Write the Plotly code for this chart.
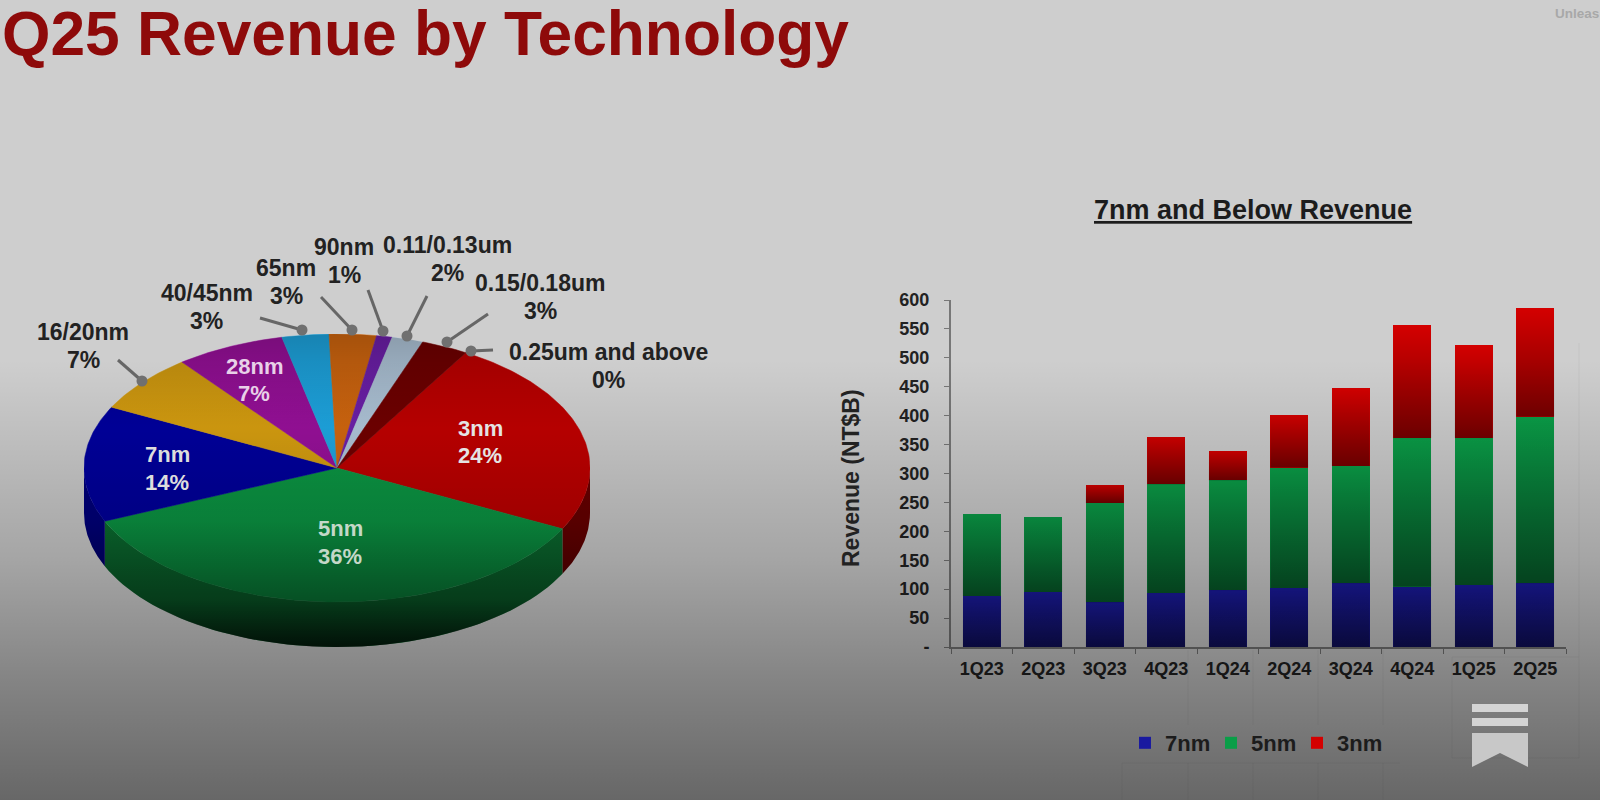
import base64

import numpy as np
import plotly.graph_objects as go

# =====================================================
# DATA
# =====================================================

pie_labels = ["3nm", "5nm", "7nm", "16/20nm", "28nm", "40/45nm", "65nm", "90nm",
              "0.11/0.13um", "0.15/0.18um", "0.25um and above"]
pie_shares = [24, 36, 14, 7, 7, 3, 3, 1, 2, 3, 0]
pie_colors = ["#c20000", "#0b9a45", "#0000a0", "#d9a010", "#9a109c", "#1ea8e4",
              "#d4680f", "#6f20ad", "#b2c8dc", "#720000", "#555555"]
wall_colors = ["#6a0000", "#0b7232", "#00007e", "#8a660a", "#5f0a60", "#146c92",
               "#884209", "#46156e", "#71808e", "#490000", "#333333"]

quarters = ["1Q23", "2Q23", "3Q23", "4Q23", "1Q24", "2Q24", "3Q24", "4Q24", "1Q25", "2Q25"]
rev_7nm = [88, 95, 77, 93, 98, 102, 110, 104, 107, 110]
rev_5nm = [142, 130, 172, 188, 190, 208, 203, 257, 254, 288]
rev_3nm = [0, 0, 31, 82, 51, 92, 134, 195, 162, 188]

y_ticks = [0, 50, 100, 150, 200, 250, 300, 350, 400, 450, 500, 550, 600]
y_tick_text = ["-", "50", "100", "150", "200", "250", "300", "350", "400", "450", "500", "550", "600"]

W = 1600
H = 800
FONT = "Liberation Sans"


def px(x):
    return x / W


def py(y):
    return 1 - y / H


def svg_uri(svg):
    return "data:image/svg+xml;base64," + base64.b64encode(svg.encode()).decode()


def fade_uri(stops):
    rows = "".join(f'<stop offset="{o}" stop-color="#000" stop-opacity="{a}"/>' for o, a in stops)
    return svg_uri(
        '<svg xmlns="http://www.w3.org/2000/svg" width="10" height="100" viewBox="0 0 10 100" '
        'preserveAspectRatio="none"><defs><linearGradient id="g" x1="0" y1="0" x2="0" y2="1">'
        f'{rows}</linearGradient></defs><rect width="10" height="100" fill="url(#g)"/></svg>'
    )


fig = go.Figure()

# =====================================================
# PIE (tilted, drawn on its own unit axes)
# =====================================================

DEPTH = 0.336
START = 8.5

edges = START + np.concatenate([[0], np.cumsum(pie_shares)])
angles = np.radians(edges * 3.6)

# front wall first
for i, label in enumerate(pie_labels):
    a0 = max(angles[i], np.pi / 2)
    a1 = min(angles[i + 1], 3 * np.pi / 2)
    if a1 <= a0:
        continue
    t = np.linspace(a0, a1, 60)
    wall_x = np.concatenate([np.sin(t), np.sin(t[::-1])])
    wall_y = np.concatenate([np.cos(t), np.cos(t[::-1]) - DEPTH])
    fig.add_trace(go.Scatter(x=wall_x, y=wall_y, xaxis="x2", yaxis="y2", mode="lines", fill="toself",
                             fillcolor=wall_colors[i], line=dict(width=0, color=wall_colors[i]),
                             showlegend=False, hoverinfo="skip"))

for i, label in enumerate(pie_labels):
    if pie_shares[i] == 0:
        continue
    t = np.linspace(angles[i], angles[i + 1], max(3, pie_shares[i] * 4))
    fig.add_trace(go.Scatter(x=np.concatenate([[0], np.sin(t), [0]]),
                             y=np.concatenate([[0], np.cos(t), [0]]),
                             xaxis="x2", yaxis="y2", mode="lines", fill="toself",
                             fillcolor=pie_colors[i], line=dict(width=0.5, color=pie_colors[i]),
                             name=label, showlegend=False, hoverinfo="name"))

# =====================================================
# STACKED BARS
# =====================================================

bar_series = [("7nm", rev_7nm, "#1a1aa0"), ("5nm", rev_5nm, "#0a9e48"), ("3nm", rev_3nm, "#d40000")]

for name, values, color in bar_series:
    fig.add_trace(go.Bar(x=quarters, y=values, name=name, marker=dict(color=color, line=dict(width=0))))

# =====================================================
# IMAGES: SHADING OVER THE MARKS
# =====================================================

images = []

bar_fade = fade_uri([(0, 0), (1, 0.45)])
bottoms = np.zeros(len(quarters))
for name, values, color in bar_series:
    for i, v in enumerate(values):
        if v == 0:
            continue
        images.append(dict(source=bar_fade, xref="x", yref="y", x=i - 0.31, y=bottoms[i] + v,
                           sizex=0.62, sizey=v, sizing="stretch", xanchor="left", yanchor="top",
                           layer="above"))
    bottoms = bottoms + np.array(values)

hull = (
    '<svg xmlns="http://www.w3.org/2000/svg" width="200" height="233.6" viewBox="0 0 200 233.6" '
    'preserveAspectRatio="none"><defs><linearGradient id="g" x1="0" y1="0" x2="0" y2="1">'
    '<stop offset="0" stop-color="#000" stop-opacity="0.22"/>'
    '<stop offset="0.3" stop-color="#000" stop-opacity="0"/>'
    '<stop offset="0.6" stop-color="#000" stop-opacity="0.02"/>'
    '<stop offset="0.85" stop-color="#000" stop-opacity="0.3"/>'
    '<stop offset="1" stop-color="#000" stop-opacity="0.78"/>'
    '</linearGradient></defs><path fill="url(#g)" '
    'd="M0 100 A100 100 0 0 1 200 100 L200 133.6 A100 100 0 0 1 0 133.6 Z"/></svg>'
)
images.append(dict(source=svg_uri(hull), xref="x2", yref="y2", x=-1, y=1, sizex=2, sizey=2 + DEPTH,
                   sizing="stretch", xanchor="left", yanchor="top", layer="above"))

# the dark scrim over the lower half of the whole picture
images.append(dict(source=fade_uri([(0, 0), (0.45, 0), (0.7, 0.2), (0.85, 0.36), (1, 0.5)]),
                   xref="paper", yref="paper", x=0, y=1, sizex=1, sizey=1, sizing="stretch",
                   xanchor="left", yanchor="top", layer="above"))

# =====================================================
# TEXT
# =====================================================

annotations = []


def add_text(text, x, y, size, color, anchor="center", angle=0):
    annotations.append(dict(text=text, x=px(x), y=py(y), xref="paper", yref="paper", showarrow=False,
                            xanchor=anchor, yanchor="middle", align="center", textangle=angle,
                            font=dict(family=FONT, size=size, color=color)))


add_text("<b>Q25 Revenue by Technology</b>", 0, 34, 62.3, "#8e0a0a", anchor="left")
add_text("<b>Unleas</b>", 1553, 14, 13.5, "#a8a8a8", anchor="left")
add_text("<b><u>7nm and Below Revenue</u></b>", 1253, 210, 27, "#1c1c1c")
add_text("<b>Revenue (NT$B)</b>", 851, 478, 23, "#222222", angle=-90)

outer_labels = [("16/20nm", "7%", 83, 346), ("40/45nm", "3%", 207, 307), ("65nm", "3%", 286, 282),
                ("90nm", "1%", 344, 261), ("0.11/0.13um", "2%", 447, 259),
                ("0.15/0.18um", "3%", 540, 297), ("0.25um and above", "0%", 608, 366)]
for name, share, x, y in outer_labels:
    add_text(f"<b>{name}</b>", x, y - 14, 23, "#222222")
    add_text(f"<b>{share}</b>", x, y + 14, 23, "#222222")

inner_labels = [("3nm", "24%", 480, 442, "#e4e4e4"), ("5nm", "36%", 340, 542, "#c4d8c8"),
                ("7nm", "14%", 167, 468, "#dddddd"), ("28nm", "7%", 254, 380, "#e8d0e8")]
for name, share, x, y, color in inner_labels:
    add_text(f"<b>{name}</b>", x, y - 14, 22, color)
    add_text(f"<b>{share}</b>", x, y + 14, 22, color)

# =====================================================
# BACKDROP LINES, LEADER LINES AND LOGO
# =====================================================

shapes = []

# faint cells of the backdrop, bottom right
backdrop = [(1188, 650, 1188, 725), (1253, 650, 1253, 725), (1318, 650, 1318, 725), (1383, 650, 1383, 725),
            (1452, 657, 1452, 758), (1579, 343, 1579, 758), (1452, 758, 1579, 758), (1452, 657, 1579, 657),
            (1122, 763, 1400, 763), (1122, 763, 1122, 800), (1188, 763, 1188, 800), (1253, 763, 1253, 800),
            (1318, 763, 1318, 800), (1383, 763, 1383, 800)]
for x0, y0, x1, y1 in backdrop:
    shapes.append(dict(type="line", xref="paper", yref="paper", x0=px(x0), y0=py(y0), x1=px(x1), y1=py(y1),
                       layer="below", line=dict(color="rgba(0,0,0,0.05)", width=1)))

leaders = [(118, 360, 142, 381), (260, 318, 302, 330), (321, 297, 352, 330), (368, 290, 383, 331),
           (427, 296, 407, 336), (488, 314, 447, 342), (493, 350, 471, 351)]
for x0, y0, x1, y1 in leaders:
    shapes.append(dict(type="line", xref="paper", yref="paper", x0=px(x0), y0=py(y0), x1=px(x1), y1=py(y1),
                       line=dict(color="#666666", width=3)))
    shapes.append(dict(type="circle", xref="paper", yref="paper", x0=px(x1 - 5.5), x1=px(x1 + 5.5),
                       y0=py(y1 + 5.5), y1=py(y1 - 5.5), fillcolor="#707070", line=dict(width=0)))

LOGO = "#d4d4d4"
shapes.append(dict(type="rect", xref="paper", yref="paper", x0=px(1472), x1=px(1528), y0=py(712), y1=py(704),
                   fillcolor=LOGO, line=dict(width=0)))
shapes.append(dict(type="rect", xref="paper", yref="paper", x0=px(1472), x1=px(1528), y0=py(726), y1=py(718),
                   fillcolor=LOGO, line=dict(width=0)))
logo_points = [(1472, 733), (1528, 733), (1528, 767), (1500, 753), (1472, 767)]
logo_path = "M" + " L".join(f"{px(x):.4f},{py(y):.4f}" for x, y in logo_points) + " Z"
shapes.append(dict(type="path", xref="paper", yref="paper", path=logo_path, fillcolor="#c8c8c8", line=dict(width=0)))

# =====================================================
# LAYOUT
# =====================================================

tick_font = dict(family=FONT, size=18, color="#222222", weight="bold")

fig.update_layout(
    width=W,
    height=H,
    margin=dict(l=0, r=0, t=0, b=0, autoexpand=False),
    paper_bgcolor="#cecece",
    plot_bgcolor="rgba(0,0,0,0)",
    barmode="stack",
    bargap=0.38,
    images=images,
    annotations=annotations,
    shapes=shapes,
    legend=dict(orientation="h", x=px(1254), y=py(743), xanchor="center", yanchor="middle",
                bgcolor="rgba(0,0,0,0)", font=dict(family=FONT, size=22, color="#1c1c1c", weight="bold"),
                itemwidth=30, entrywidth=41, entrywidthmode="pixels", traceorder="normal"),
    xaxis=dict(domain=[px(951), px(1566)], type="category", tickson="boundaries", ticks="outside", ticklen=5,
               tickcolor="#777777", showline=True, linecolor="#777777", linewidth=2, showgrid=False,
               zeroline=False, tickfont=tick_font, ticklabelstandoff=4, anchor="y", fixedrange=True,
               automargin=False),
    yaxis=dict(domain=[py(647), py(300)], range=[0, 600], tickvals=y_ticks, ticktext=y_tick_text, ticks="outside",
               ticklen=5, tickcolor="#777777", showline=True, linecolor="#777777", linewidth=2, showgrid=False,
               zeroline=False, tickfont=tick_font, ticklabelstandoff=11, anchor="x", fixedrange=True,
               automargin=False),
    xaxis2=dict(domain=[px(84), px(590)], range=[-1, 1], visible=False, anchor="y2", fixedrange=True),
    yaxis2=dict(domain=[py(647), py(334)], range=[-1 - DEPTH, 1], visible=False, anchor="x2", fixedrange=True),
)

# page margin off, so the 1600x800 figure fills the window
fig.write_html("out.html", config=dict(displayModeBar=False), post_script="document.body.style.margin = '0';")
